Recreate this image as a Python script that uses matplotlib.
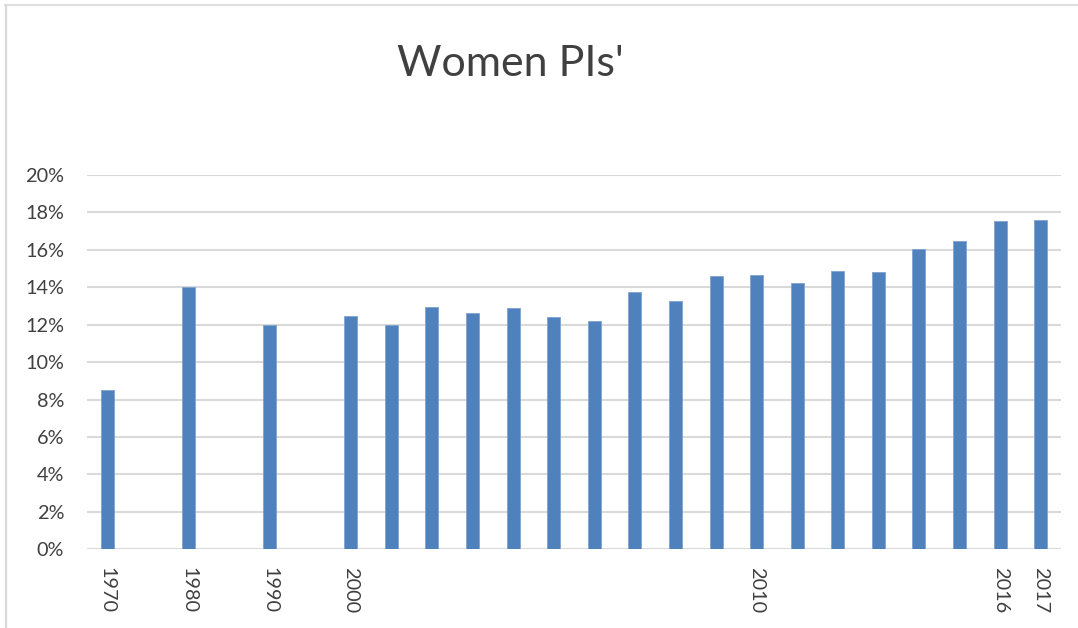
import matplotlib.pyplot as plt
from matplotlib.lines import Line2D
from matplotlib.ticker import PercentFormatter
import numpy as np

# category slots on the axis (blank slots keep the gaps between decades)
categories = ["1970", "", "1980", "", "1990", "", "2000",
              "2001", "2002", "2003", "2004", "2005", "2006", "2007", "2008", "2009",
              "2010", "2011", "2012", "2013", "2014", "2015", "2016", "2017"]
shown_labels = ["1970", "1980", "1990", "2000", "2010", "2016", "2017"]
# share of women PIs, in percent (None = empty slot)
women_pct = [8.5, None, 14.0, None, 12.0, None, 12.45,
             12.0, 12.95, 12.63, 12.88, 12.4, 12.19, 13.75, 13.25, 14.59,
             14.66, 14.21, 14.87, 14.8, 16.05, 16.46, 17.56, 17.58]
yticks = [0, 2, 4, 6, 8, 10, 12, 14, 16, 18, 20]

plt.rcParams['font.family'] = ['Lato', 'DejaVu Sans']
text_col = "#404040"
grid_col = "#D9D9D9"
bar_col = "#4F81BD"

fig = plt.figure(figsize=(10.78, 6.28), dpi=100)
ax = fig.add_axes([87 / 1078, 1 - 549.3 / 628, 974 / 1078, 374.3 / 628])

x = np.arange(len(categories))
vals = np.array([np.nan if v is None else v / 100 for v in women_pct])
ax.bar(x, vals, width=0.32, color=bar_col, edgecolor="#7FA3D0", linewidth=0.6, zorder=3)

ax.set_xlim(-0.5, len(categories) - 0.5)
ax.set_ylim(0, 0.2)
ax.set_yticks([t / 100 for t in yticks])
ax.yaxis.set_major_formatter(PercentFormatter(1.0, decimals=0))
ax.set_xticks(x)
ax.set_xticklabels([c if c in shown_labels else "" for c in categories], rotation=-90)

ax.grid(axis="y", color=grid_col, linewidth=1.5, zorder=0)
ax.set_axisbelow(True)
for s in ax.spines.values():
    s.set_visible(False)
ax.tick_params(axis="both", length=0, colors=text_col, labelsize=14.3)
ax.tick_params(axis="y", pad=16.5)
ax.tick_params(axis="x", pad=12.5)

fig.text(510 / 1078, 1 - 76 / 628, "Women PIs'", ha="center", va="baseline",
         fontsize=31, color=text_col)

# chart border (only top and left edges show in the crop)
fig.add_artist(Line2D([5 / 1078, 1], [1 - 5 / 628, 1 - 5 / 628], color=grid_col, linewidth=1.2))
fig.add_artist(Line2D([6 / 1078, 6 / 1078], [0, 1 - 5 / 628], color=grid_col, linewidth=1.6))

fig.savefig("out.png", dpi=100)
